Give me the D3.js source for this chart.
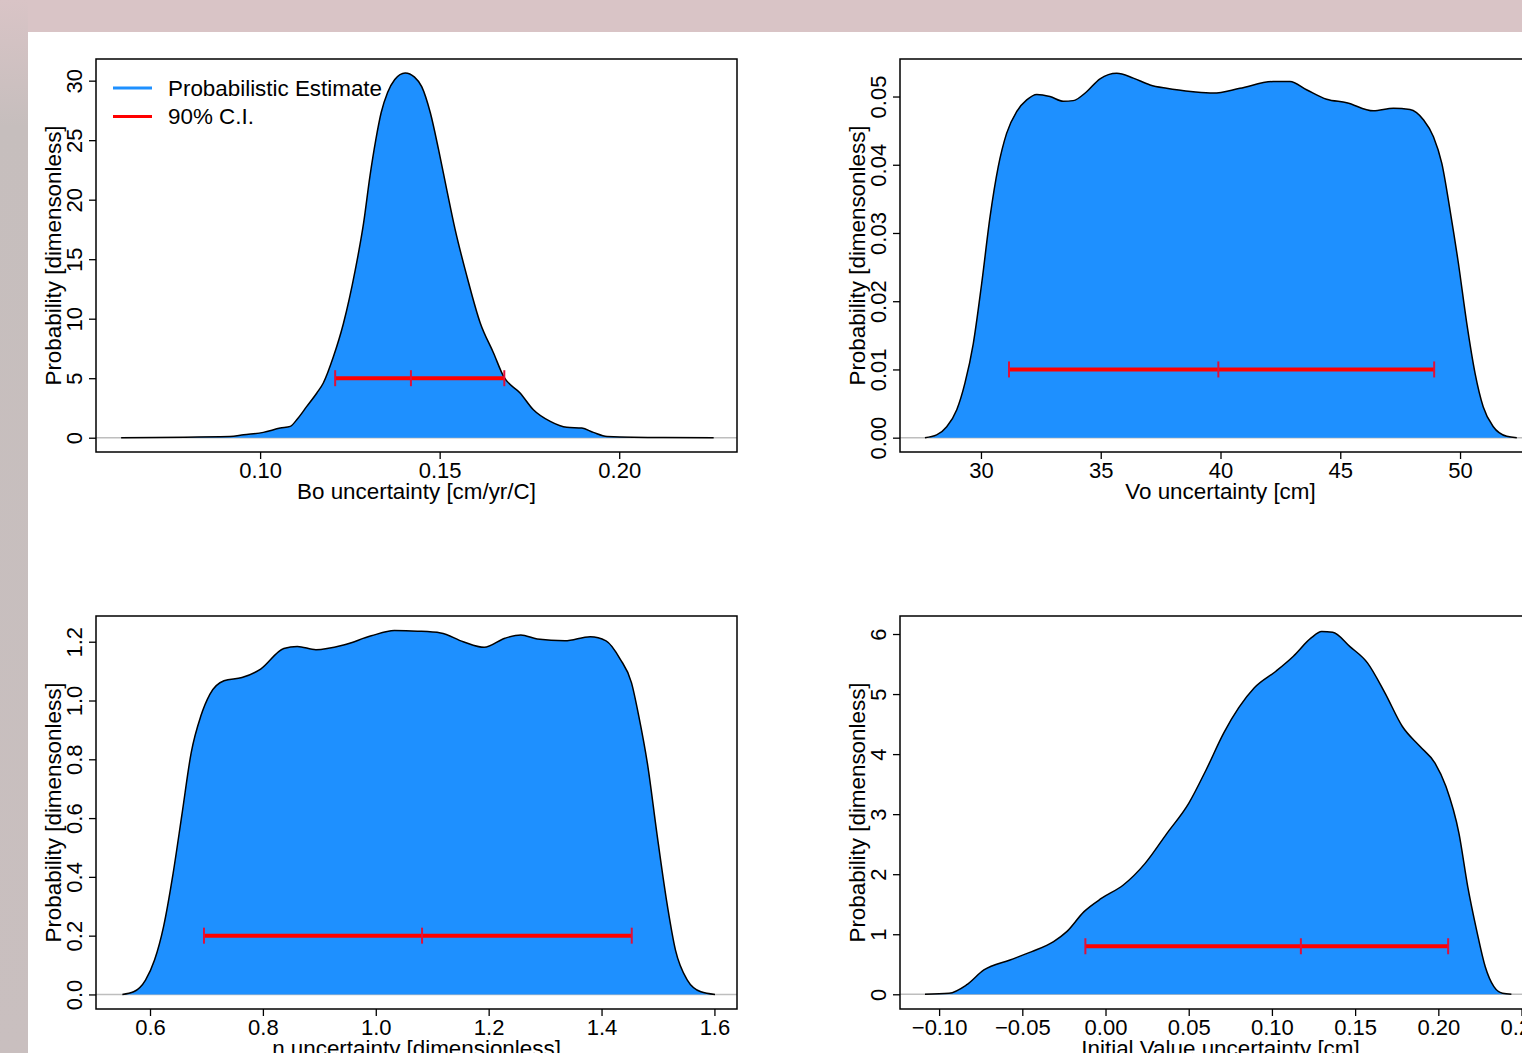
<!DOCTYPE html>
<html>
<head>
<meta charset="utf-8">
<script src="https://cdnjs.cloudflare.com/ajax/libs/d3/7.8.5/d3.min.js"></script>
<style>
body { margin: 0; overflow: hidden; background: #d9c4c6; }
text { font-family: "Liberation Sans", Arial, sans-serif; fill: #000; }
</style>
</head>
<body>
<svg id="chart"></svg>
<script>
// Density curves (x value, probability)
var boX = [0.0613, 0.0916, 0.0954, 0.1009, 0.1056, 0.1084, 0.1102, 0.1130, 0.1158, 0.1176, 0.1204, 0.1232, 0.1265, 0.1288, 0.1306, 0.1322, 0.1337, 0.1355, 0.1375, 0.1404, 0.1430, 0.1450, 0.1474, 0.1497, 0.1520, 0.1543, 0.1576, 0.1613, 0.1650, 0.1678, 0.1724, 0.1761, 0.1808, 0.1854, 0.1896, 0.1928, 0.1966, 0.2123, 0.2263];
var boY = [0, 0.10, 0.25, 0.45, 0.81, 0.95, 1.51, 2.63, 3.76, 4.6, 6.8, 9.6, 14.1, 18.0, 22.0, 25.0, 27.3, 29.0, 30.1, 30.65, 30.3, 29.5, 27.3, 24.2, 20.8, 17.5, 13.55, 9.64, 7.12, 5.15, 3.76, 2.35, 1.37, 0.87, 0.81, 0.45, 0.11, 0.01, 0];

var voX = [27.66, 28.15, 28.57, 28.99, 29.33, 29.68, 30.03, 30.38, 30.72, 31.07, 31.49, 31.91, 32.33, 32.88, 33.44, 33.85, 34.41, 34.97, 35.67, 36.36, 37.06, 37.75, 38.86, 39.70, 40.81, 42.20, 42.90, 43.59, 44.43, 45.27, 46.38, 47.22, 47.91, 48.47, 48.89, 49.24, 49.58, 49.93, 50.28, 50.63, 50.97, 51.39, 51.95, 52.37];
var voY = [0, 0.0004, 0.0016, 0.0041, 0.0080, 0.0138, 0.0226, 0.0324, 0.0397, 0.0446, 0.0478, 0.0495, 0.0503, 0.0500, 0.0493, 0.0494, 0.0507, 0.0526, 0.0534, 0.0527, 0.0517, 0.0512, 0.0507, 0.0505, 0.0512, 0.0522, 0.0522, 0.0510, 0.0496, 0.0491, 0.0479, 0.0483, 0.0481, 0.0466, 0.0441, 0.0402, 0.0334, 0.0256, 0.0168, 0.0094, 0.0045, 0.0016, 0.0002, 0];

var nX = [0.551, 0.571, 0.592, 0.608, 0.624, 0.641, 0.657, 0.673, 0.690, 0.706, 0.731, 0.763, 0.796, 0.837, 0.861, 0.894, 0.943, 0.992, 1.033, 1.074, 1.115, 1.155, 1.192, 1.229, 1.257, 1.286, 1.335, 1.380, 1.408, 1.433, 1.453, 1.466, 1.482, 1.498, 1.515, 1.531, 1.552, 1.576, 1.601];
var nY = [0, 0.009, 0.049, 0.117, 0.231, 0.413, 0.618, 0.823, 0.947, 1.021, 1.067, 1.078, 1.107, 1.177, 1.184, 1.173, 1.189, 1.220, 1.238, 1.236, 1.230, 1.200, 1.181, 1.212, 1.223, 1.209, 1.203, 1.217, 1.203, 1.141, 1.061, 0.947, 0.777, 0.549, 0.322, 0.151, 0.049, 0.009, 0];

var ivX = [-0.1085, -0.094, -0.0836, -0.0731, -0.0574, -0.0443, -0.0312, -0.0233, -0.0129, -0.0023, 0.0107, 0.0238, 0.0369, 0.050, 0.0605, 0.071, 0.0893, 0.1024, 0.1129, 0.1234, 0.1299, 0.1365, 0.1469, 0.1574, 0.1679, 0.1784, 0.1889, 0.198, 0.2046, 0.2124, 0.2177, 0.223, 0.2282, 0.2334, 0.2386, 0.2439];
var ivY = [0, 0.017, 0.155, 0.405, 0.572, 0.71, 0.877, 1.043, 1.377, 1.60, 1.82, 2.18, 2.68, 3.18, 3.74, 4.35, 5.10, 5.38, 5.63, 5.93, 6.04, 6.03, 5.79, 5.52, 5.02, 4.46, 4.13, 3.85, 3.46, 2.68, 1.79, 1.07, 0.46, 0.127, 0.017, 0];

// 90% C.I. (lower, median, upper) and the height it is drawn at
var boCI = [0.1209, 0.1420, 0.1680], boCIy = 5;
var voCI = [31.17, 39.91, 48.92], voCIy = 0.01;
var nCI = [0.6956, 1.082, 1.4535], nCIy = 0.2;
var ivCI = [-0.0121, 0.1174, 0.2059], ivCIy = 0.8;

// Tick values
var boXTicks = [0.10, 0.15, 0.20], boYTicks = [0, 5, 10, 15, 20, 25, 30];
var voXTicks = [30, 35, 40, 45, 50], voYTicks = [0, 0.01, 0.02, 0.03, 0.04, 0.05];
var nXTicks = [0.6, 0.8, 1.0, 1.2, 1.4, 1.6], nYTicks = [0, 0.2, 0.4, 0.6, 0.8, 1.0, 1.2];
var ivXTicks = [-0.10, -0.05, 0, 0.05, 0.10, 0.15, 0.20, 0.25], ivYTicks = [0, 1, 2, 3, 4, 5, 6];

var legendLabels = ["Probabilistic Estimate", "90% C.I."];
var yTitle = "Probability [dimensonless]";

var W = 1522, H = 1053;
var pw = 641, ph = 393;
var tickFont = 22, titleFont = 22.4;

var svg = d3.select("#chart").attr("width", W).attr("height", H);

// page background (screenshot frame) and the white sheet
var defs = svg.append("defs");
var grad = defs.append("linearGradient").attr("id", "leftfade").attr("x1", 0).attr("y1", 0).attr("x2", 0).attr("y2", 1);
grad.append("stop").attr("offset", "0%").attr("stop-color", "#d9c4c6");
grad.append("stop").attr("offset", "12%").attr("stop-color", "#c6bebd");
grad.append("stop").attr("offset", "100%").attr("stop-color", "#c9bfbf");
svg.append("rect").attr("width", W).attr("height", H).attr("fill", "#d9c4c6");
svg.append("rect").attr("x", 0).attr("y", 0).attr("width", 28).attr("height", H).attr("fill", "url(#leftfade)");
svg.append("rect").attr("x", 28).attr("y", 32).attr("width", W - 28).attr("height", H - 32).attr("fill", "#fff");

var panels = [
    { xs: boX, ys: boY, ci: boCI, ciY: boCIy, left: 96, top: 59, xDom: [0.0543, 0.2328], yDom: [-1.2, 31.82],
      xTicks: boXTicks, yTicks: boYTicks, xFmt: ".2f", yFmt: ".0f", xTitle: "Bo uncertainty [cm/yr/C]", legend: true },
    { xs: voX, ys: voY, ci: voCI, ciY: voCIy, left: 900, top: 59, xDom: [26.62, 53.38], yDom: [-0.0021, 0.0555],
      xTicks: voXTicks, yTicks: voYTicks, xFmt: ".0f", yFmt: ".2f", xTitle: "Vo uncertainty [cm]", legend: false },
    { xs: nX, ys: nY, ci: nCI, ciY: nCIy, left: 96, top: 616, xDom: [0.5043, 1.640], yDom: [-0.0495, 1.2875],
      xTicks: nXTicks, yTicks: nYTicks, xFmt: ".1f", yFmt: ".1f", xTitle: "n uncertainty [dimensionless]", legend: false },
    { xs: ivX, ys: ivY, ci: ivCI, ciY: ivCIy, left: 900, top: 616, xDom: [-0.1235, 0.2617], yDom: [-0.245, 6.30],
      xTicks: ivXTicks, yTicks: ivYTicks, xFmt: ".2f", yFmt: ".0f", xTitle: "Initial Value uncertainty [cm]", legend: false }
];

panels.forEach(drawPanel);

function drawPanel(p) {
    var g = svg.append("g").attr("transform", "translate(" + p.left + "," + p.top + ")");

    var xScale = d3.scaleLinear().domain(p.xDom).range([0, pw]);
    var yScale = d3.scaleLinear().domain(p.yDom).range([ph, 0]);

    var pts = p.xs.map(function(v, i) { return { x: v, y: p.ys[i] }; });

    // gray zero line
    g.append("line")
        .attr("x1", 0).attr("x2", pw)
        .attr("y1", yScale(0)).attr("y2", yScale(0))
        .attr("stroke", "#bebebe").attr("stroke-width", 1.5);

    // filled density
    var area = d3.area()
        .x(function(d) { return xScale(d.x); })
        .y0(yScale(0))
        .y1(function(d) { return yScale(d.y); })
        .curve(d3.curveMonotoneX);
    g.append("path").datum(pts).attr("d", area).attr("fill", "#1e90ff");

    var line = d3.line()
        .x(function(d) { return xScale(d.x); })
        .y(function(d) { return yScale(d.y); })
        .curve(d3.curveMonotoneX);
    g.append("path").datum(pts).attr("d", line)
        .attr("fill", "none").attr("stroke", "#000").attr("stroke-width", 1.5);

    // 90% C.I. bar
    g.append("line")
        .attr("x1", xScale(p.ci[0])).attr("x2", xScale(p.ci[2]))
        .attr("y1", yScale(p.ciY)).attr("y2", yScale(p.ciY))
        .attr("stroke", "#ff0000").attr("stroke-width", 4);
    g.selectAll(".citick").data(p.ci).enter().append("line")
        .attr("x1", function(d) { return xScale(d); }).attr("x2", function(d) { return xScale(d); })
        .attr("y1", yScale(p.ciY) - 8).attr("y2", yScale(p.ciY) + 8)
        .attr("stroke", "#e0103a").attr("stroke-width", 2);

    // box
    g.append("rect").attr("width", pw).attr("height", ph)
        .attr("fill", "none").attr("stroke", "#000").attr("stroke-width", 1.5);

    // x axis
    var xa = g.append("g")
        .attr("transform", "translate(0," + ph + ")")
        .call(d3.axisBottom(xScale).tickValues(p.xTicks).tickFormat(d3.format(p.xFmt)).tickSize(7).tickPadding(3.5));
    xa.select(".domain").remove();
    xa.attr("font-size", tickFont).attr("font-family", null);
    xa.selectAll("line").attr("stroke-width", 1.3);

    // y axis, labels turned like R's default
    var ya = g.append("g")
        .call(d3.axisLeft(yScale).tickValues(p.yTicks).tickFormat(d3.format(p.yFmt)).tickSize(7));
    ya.select(".domain").remove();
    ya.attr("font-size", tickFont).attr("font-family", null);
    ya.selectAll("line").attr("stroke-width", 1.3);
    ya.selectAll("text")
        .attr("transform", "rotate(-90)")
        .attr("x", 0).attr("y", -14.5).attr("dy", null)
        .attr("text-anchor", "middle");

    // titles
    g.append("text")
        .attr("x", pw / 2).attr("y", ph + 46.5)
        .attr("text-anchor", "middle").style("font-size", titleFont + "px")
        .text(p.xTitle);
    g.append("text")
        .attr("transform", "translate(-35," + (ph / 2) + ") rotate(-90)")
        .attr("text-anchor", "middle").style("font-size", titleFont + "px")
        .text(yTitle);

    if (p.legend) {
        var colors = ["#1e90ff", "#ff0000"];
        legendLabels.forEach(function(lab, i) {
            g.append("line")
                .attr("x1", 17).attr("x2", 56)
                .attr("y1", 29 + i * 28.5).attr("y2", 29 + i * 28.5)
                .attr("stroke", colors[i]).attr("stroke-width", 3);
            g.append("text")
                .attr("x", 72).attr("y", 36.5 + i * 28.5)
                .style("font-size", titleFont + "px")
                .text(lab);
        });
    }
}
</script>
</body>
</html>
